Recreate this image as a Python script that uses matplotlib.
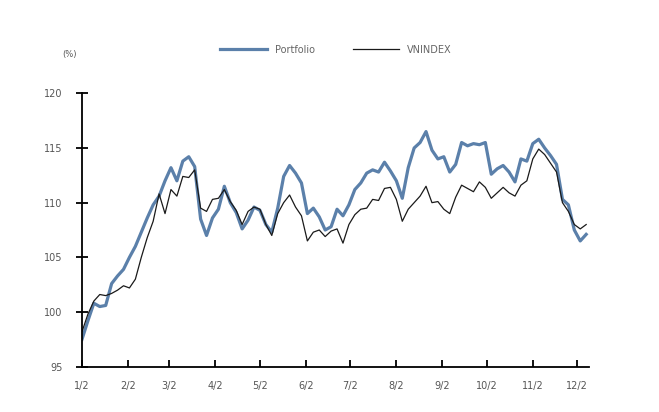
import datetime as dt
import pandas as pd
import matplotlib
matplotlib.use("Agg")
import matplotlib.pyplot as plt
import matplotlib.dates as mdates
from matplotlib.ticker import FuncFormatter

# values, one every 4 calendar days from 2 Jan
portfolio = [97.5, 99.2, 100.8, 100.5, 100.6, 102.6, 103.3, 103.9, 105.0, 106.0,
             107.3, 108.6, 109.8, 110.6, 112.0, 113.2, 112.0, 113.8, 114.2, 113.3,
             108.5, 107.0, 108.6, 109.4, 111.5, 110.0, 109.1, 107.6, 108.4, 109.6,
             109.3, 108.0, 107.3, 109.5, 112.4, 113.4, 112.7, 111.8, 109.0, 109.5,
             108.7, 107.5, 107.8, 109.4, 108.8, 109.8, 111.2, 111.8, 112.7, 113.0,
             112.8, 113.7, 112.9, 112.0, 110.4, 113.2, 115.0, 115.5, 116.5, 114.8,
             114.0, 114.2, 112.8, 113.5, 115.5, 115.2, 115.4, 115.3, 115.5, 112.6,
             113.1, 113.4, 112.8, 111.9, 114.0, 113.8, 115.4, 115.8, 115.0, 114.3,
             113.5, 110.3, 109.8, 107.5, 106.5, 107.1]
vnindex = [98.2, 99.8, 101.0, 101.6, 101.5, 101.7, 102.0, 102.4, 102.2, 103.0,
           105.0, 106.8, 108.3, 110.8, 109.0, 111.2, 110.6, 112.4, 112.3, 113.0,
           109.5, 109.2, 110.3, 110.4, 111.2, 110.1, 109.3, 108.0, 109.2, 109.6,
           109.4, 108.0, 107.0, 109.0, 110.0, 110.7, 109.6, 108.8, 106.5, 107.3,
           107.5, 106.9, 107.4, 107.6, 106.3, 108.0, 108.9, 109.4, 109.5, 110.3,
           110.2, 111.3, 111.4, 110.3, 108.3, 109.4, 110.0, 110.6, 111.5, 110.0,
           110.1, 109.4, 109.0, 110.5, 111.6, 111.3, 111.0, 111.9, 111.4, 110.4,
           110.9, 111.4, 110.9, 110.6, 111.6, 112.0, 114.0, 114.9, 114.4, 113.6,
           112.8, 110.0, 109.2, 108.0, 107.6, 108.0]
dates = pd.date_range("2014-01-02", periods=len(portfolio), freq="4D")

tick_dates = [dt.datetime(2014, m, 2) for m in range(1, 13)]
y_ticks = [95, 100, 105, 110, 115, 120]

fig = plt.figure(figsize=(6.59, 4.12), dpi=100)
ax = fig.add_axes([0.1244, 0.11, 0.7696, 0.6635])

ax.plot(dates, portfolio, color="#5b80aa", lw=2.3, label="Portfolio")
ax.plot(dates, vnindex, color="#1a1a1a", lw=0.9, label="VNINDEX")

ax.set_ylim(95, 120)
ax.set_yticks(y_ticks)
ax.set_xlim(dates[0], dt.datetime(2014, 12, 10))
ax.set_xticks(tick_dates)
ax.xaxis.set_major_formatter(FuncFormatter(lambda v, p: "%d/%d" % (mdates.num2date(v).month, mdates.num2date(v).day)))

for s in ["top", "right"]:
    ax.spines[s].set_visible(False)
for s in ["left", "bottom"]:
    ax.spines[s].set_linewidth(1.3)
ax.tick_params(axis="y", direction="inout", length=8, width=1.3, labelsize=7, labelcolor="#555555", pad=10)
ax.tick_params(axis="x", direction="in", length=5, width=1.3, labelsize=7, labelcolor="#555555", pad=10)

fig.text(0.106, 0.862, "(%)", fontsize=6, color="#555555", ha="center")
fig.legend(loc="center", bbox_to_anchor=(0.51, 0.879), ncol=2, frameon=False,
           fontsize=7, labelcolor="#666666", handlelength=4.8, columnspacing=3.9)

fig.savefig("out.png", dpi=100)
